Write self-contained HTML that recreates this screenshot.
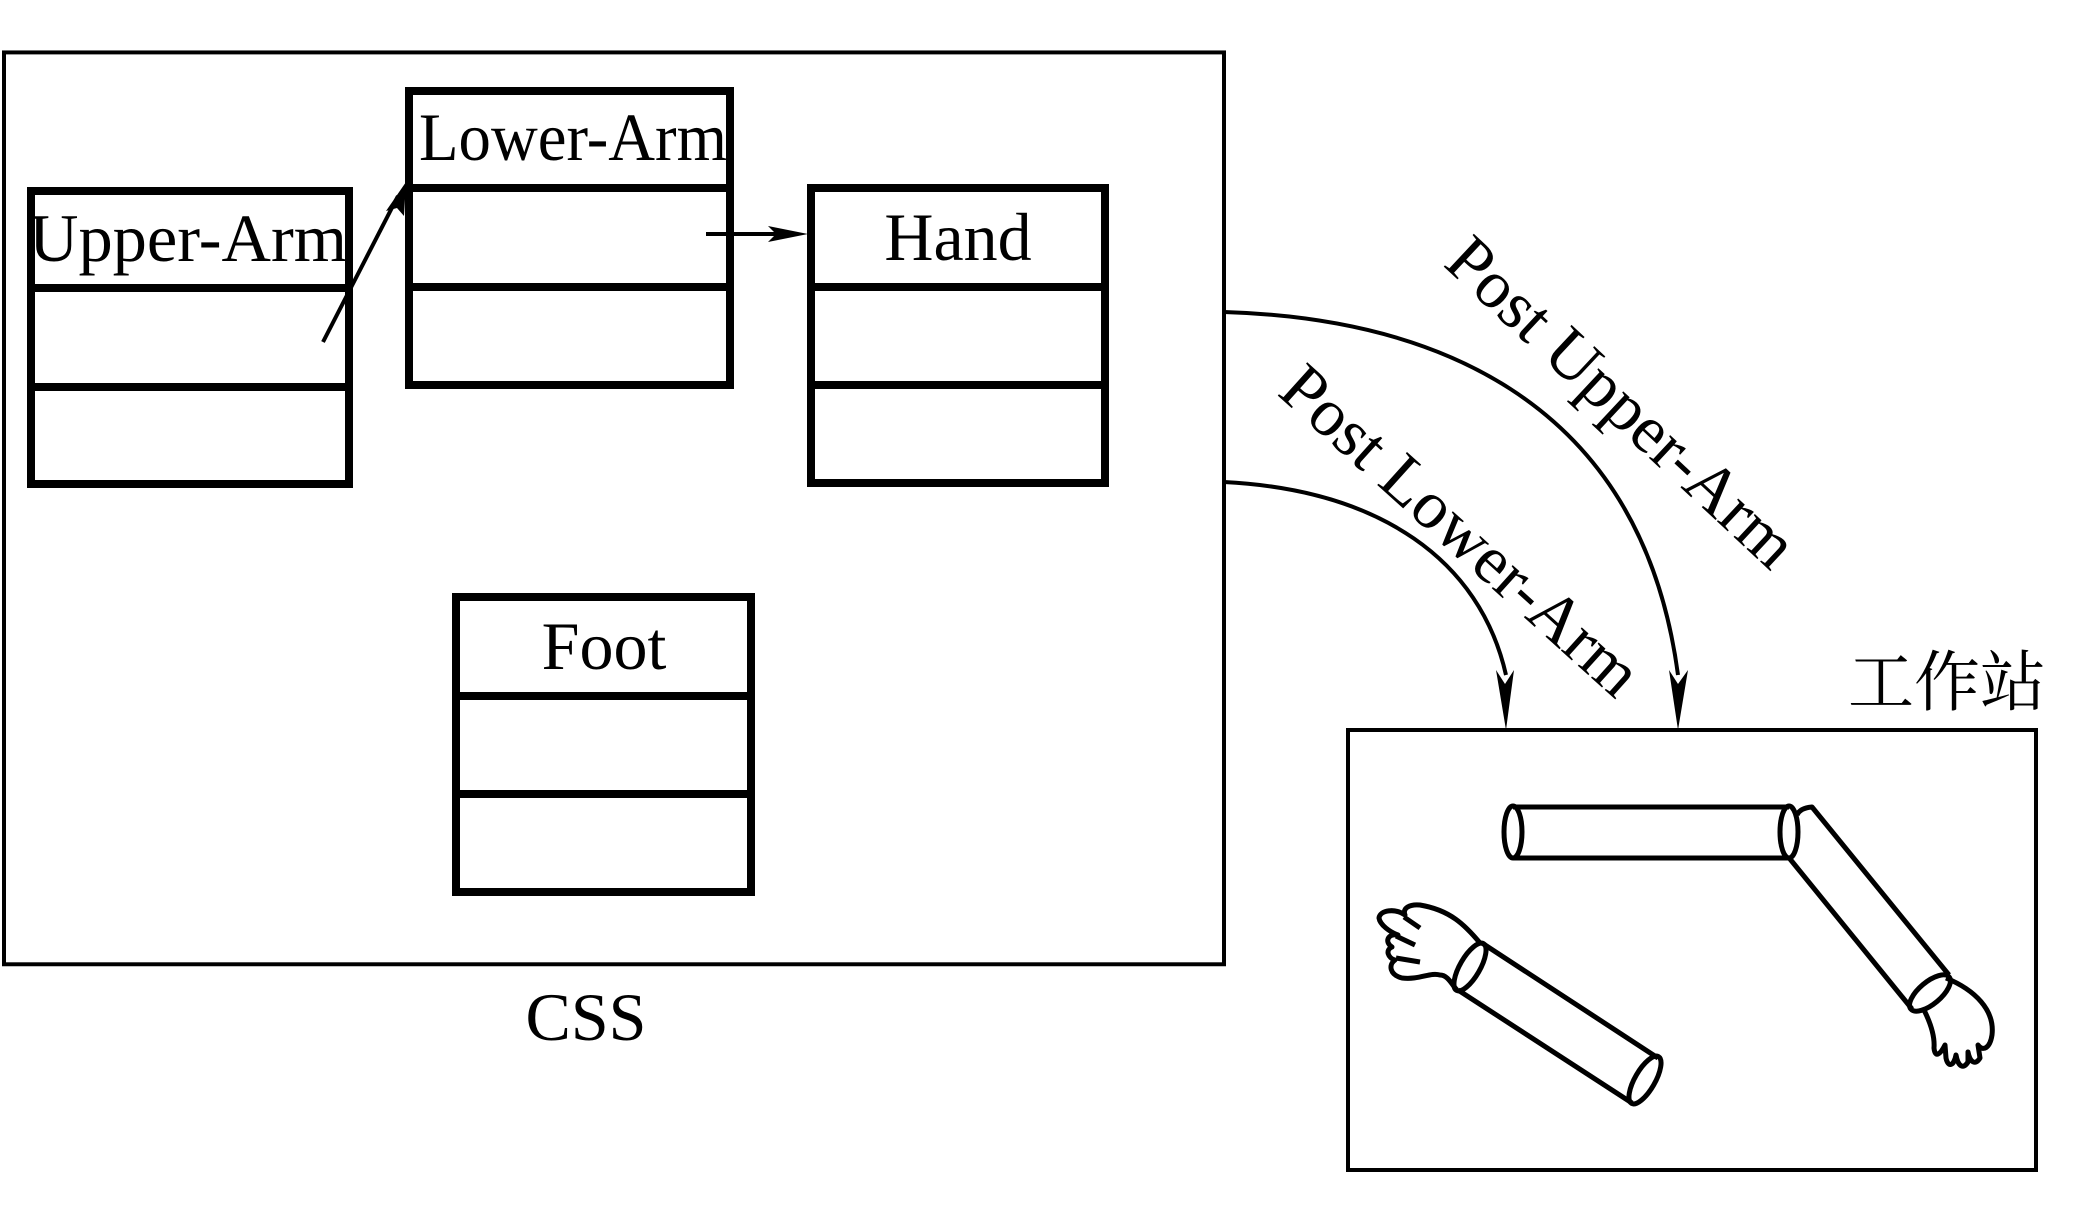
<!DOCTYPE html>
<html><head><meta charset="utf-8"><style>
html,body{margin:0;padding:0;background:#fff;}
svg{display:block;}
text{font-family:"Liberation Serif","Noto Serif CJK SC",serif;fill:#000;}
</style></head><body>
<svg width="2093" height="1215" viewBox="0 0 2093 1215" xmlns="http://www.w3.org/2000/svg">
<g fill="none" stroke="#000">
<rect x="4" y="53" width="1220" height="922" stroke-width="4" transform="translate(0,0) scale(1,0.989)"/>
<g stroke-width="8">
<rect x="31" y="191" width="318" height="293"/>
<line x1="31" y1="288" x2="349" y2="288"/><line x1="31" y1="387" x2="349" y2="387"/>
<rect x="409" y="91" width="321" height="294"/>
<line x1="409" y1="188" x2="730" y2="188"/><line x1="409" y1="287" x2="730" y2="287"/>
<rect x="811" y="188" width="294" height="295"/>
<line x1="811" y1="287" x2="1105" y2="287"/><line x1="811" y1="385" x2="1105" y2="385"/>
<rect x="456" y="597" width="295" height="295"/>
<line x1="456" y1="696" x2="751" y2="696"/><line x1="456" y1="794" x2="751" y2="794"/>
</g>
<line x1="323" y1="342" x2="398" y2="196" stroke-width="4"/>
<line x1="706" y1="234" x2="790" y2="234" stroke-width="4"/>
<path d="M1224 312 C1420 318 1640 390 1678 675" stroke-width="4"/>
<path d="M1224 482 C1380 490 1480 560 1506 675" stroke-width="4"/>
<rect x="1348" y="730" width="688" height="440" stroke-width="4"/>
</g>
<g fill="#000">
<polygon points="406,182 404,216 397,208 386,211"/>
<polygon points="808,234 768,242 776,234 768,226"/>
<polygon points="1678,730 1669,670 1678,684 1688,670"/>
<polygon points="1506,730 1496,670 1505,684 1514,670"/>
</g>
<g fill="none" stroke="#000" stroke-width="5" stroke-linejoin="round">
<line x1="1513" y1="807" x2="1789" y2="807"/>
<line x1="1513" y1="858" x2="1789" y2="858"/>
<ellipse cx="1513" cy="832" rx="9" ry="26"/>
<ellipse cx="1789" cy="832" rx="9" ry="26"/>
<path d="M1797 815 Q1800 808 1812 807 L1949 975"/>
<line x1="1790" y1="859" x2="1912" y2="1009"/>
<ellipse cx="1930" cy="993" rx="11" ry="25" transform="rotate(50 1930 993)"/>
<path d="M1946 978 C1975 990 1995 1010 1992 1035 C1990 1048 1983 1052 1978 1045 L1980 1058 C1975 1066 1970 1062 1968 1052 L1968 1062 C1963 1070 1958 1066 1956 1055 C1954 1066 1948 1068 1946 1058 L1945 1045 C1940 1055 1935 1058 1934 1048 C1935 1035 1930 1022 1924 1010"/>
<line x1="1482" y1="943" x2="1658" y2="1058"/>
<line x1="1458" y1="990" x2="1632" y2="1103"/>
<ellipse cx="1470" cy="967" rx="10" ry="27" transform="rotate(30 1470 967)"/>
<ellipse cx="1645" cy="1080" rx="10" ry="27" transform="rotate(30 1645 1080)"/>
<path d="M1480 943 C1465 925 1450 910 1420 905 C1410 904 1402 908 1405 915 C1395 908 1380 910 1379 918 C1380 925 1390 932 1398 935 C1388 933 1384 942 1392 947 C1385 950 1388 958 1395 960 C1388 965 1390 975 1402 978 C1420 980 1430 972 1440 975 C1448 975 1452 985 1457 990"/>
<path d="M1404 917 L1420 928 M1396 936 L1415 945 M1396 958 L1420 962"/>
</g>
<text x="29" y="261" font-size="68" textLength="318" lengthAdjust="spacingAndGlyphs">Upper-Arm</text>
<text x="419" y="160" font-size="68" textLength="308" lengthAdjust="spacingAndGlyphs">Lower-Arm</text>
<text x="958" y="260" font-size="68" text-anchor="middle">Hand</text>
<text x="604" y="669" font-size="68" text-anchor="middle">Foot</text>
<text x="586" y="1040" font-size="68" text-anchor="middle">CSS</text>
<text x="1848" y="705" font-size="66" font-family="'Noto Serif CJK SC','Noto Sans CJK SC',serif">工作站</text>
<text transform="translate(1442,265) rotate(43)" font-size="68">Post Upper-Arm</text>
<text transform="translate(1276,394) rotate(42)" font-size="68">Post Lower-Arm</text>
</svg>
</body></html>
